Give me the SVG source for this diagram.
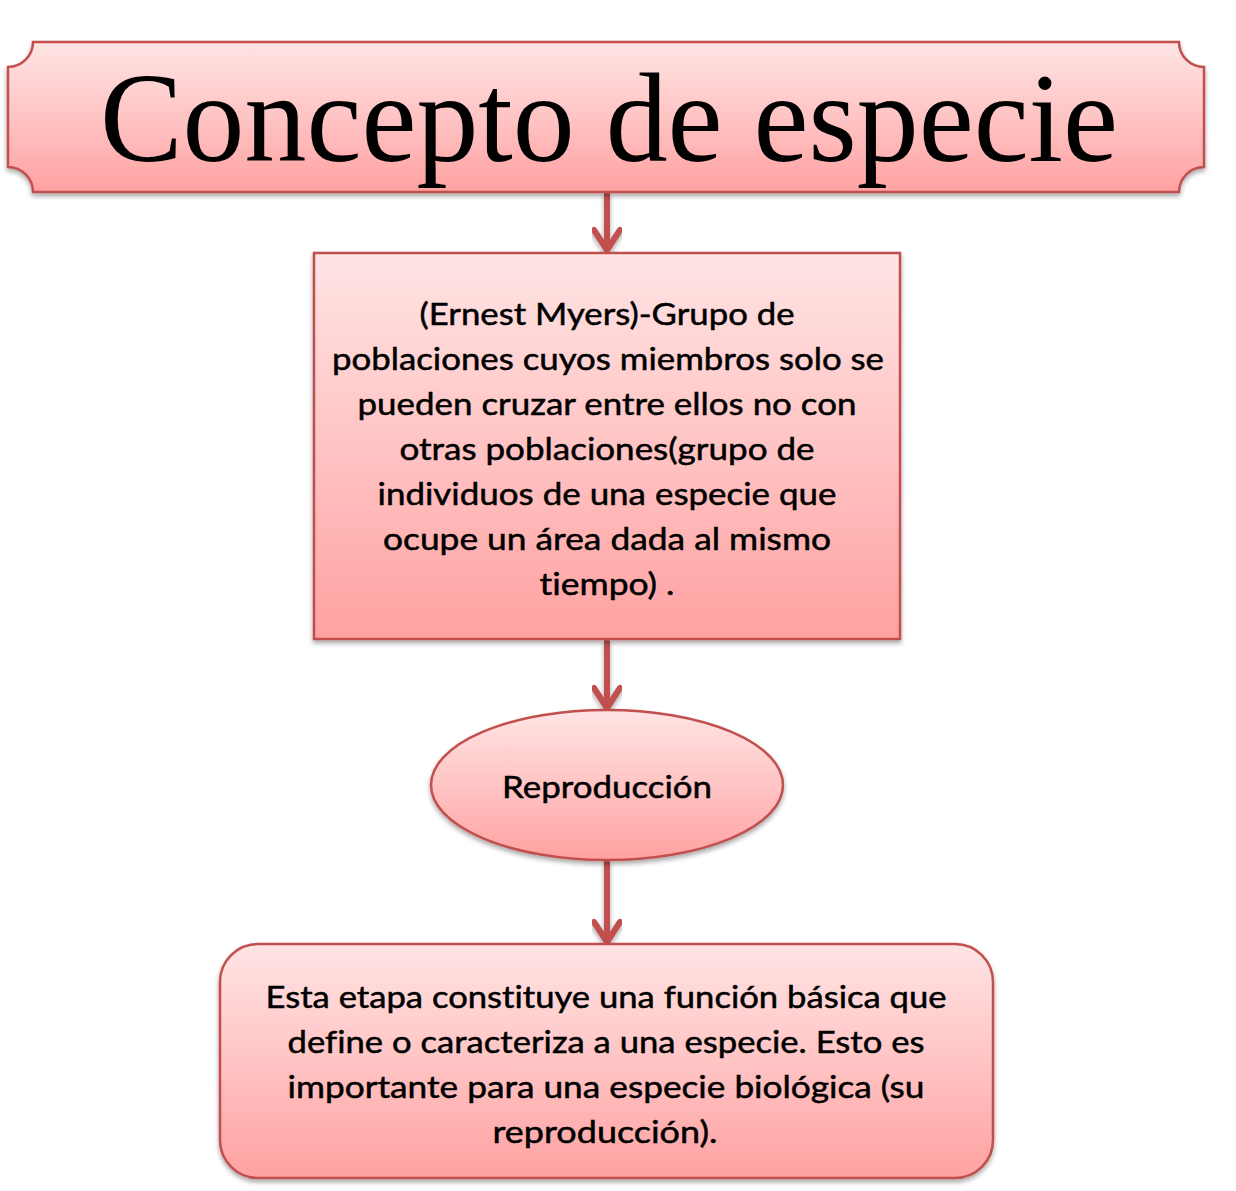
<svg xmlns="http://www.w3.org/2000/svg" width="1236" height="1191" viewBox="0 0 1236 1191">
<defs>
<linearGradient id="g" x1="0" y1="0" x2="0" y2="1">
<stop offset="0" stop-color="#FFE4E4"/>
<stop offset="0.5" stop-color="#FFC4C4"/>
<stop offset="1" stop-color="#FFA1A1"/>
</linearGradient>
<filter id="sh" x="-5%" y="-5%" width="110%" height="115%">
<feGaussianBlur in="SourceAlpha" stdDeviation="2.5"/>
<feOffset dx="0" dy="3" result="b"/>
<feComponentTransfer><feFuncA type="linear" slope="0.35"/></feComponentTransfer>
<feMerge><feMergeNode/><feMergeNode in="SourceGraphic"/></feMerge>
</filter>
</defs>
<style>
.shape{fill:url(#g);stroke:#C0504D;stroke-width:2.5;filter:url(#sh)}
.t{font-family:Lato,"Liberation Sans",sans-serif;font-size:31px;fill:#000;stroke:#000;stroke-width:0.5;text-anchor:middle;font-variant-ligatures:none;font-feature-settings:"liga" 0,"clig" 0,"dlig" 0}
.title{font-family:"Liberation Serif","DejaVu Serif",serif;font-size:127px;fill:#000}
.conn{fill:none;stroke:#C0504D;stroke-width:6;stroke-linecap:round;stroke-linejoin:round;filter:url(#sh)}
</style>
<rect width="1236" height="1191" fill="#fff"/>
<g id="connectors">
<path class="conn" d="M607,194 V250 M594,230 L607,250 L620,230"/>
<path class="conn" d="M607,642 V708 M594,688 L607,708 L620,688"/>
<path class="conn" d="M607,862 V942 M594,922 L607,942 L620,922"/>
</g>
<g id="title">
<path class="shape" d="M33,42 H1179 A25,25 0 0 0 1204,67 V167 A25,25 0 0 0 1179,192 H33 A25,25 0 0 0 8,167 V67 A25,25 0 0 0 33,42 Z"/>
<text class="title" x="100" y="161" textLength="1018" lengthAdjust="spacingAndGlyphs">Concepto de especie</text>
</g>
<g id="definicion">
<rect class="shape" x="314" y="253" width="586" height="386"/>
<text class="t" x="607" y="325" textLength="375" lengthAdjust="spacingAndGlyphs">(Ernest Myers)-Grupo de</text>
<text class="t" x="608" y="370" textLength="552" lengthAdjust="spacingAndGlyphs">poblaciones cuyos miembros solo se</text>
<text class="t" x="607" y="415" textLength="499" lengthAdjust="spacingAndGlyphs">pueden cruzar entre ellos no con</text>
<text class="t" x="607" y="460" textLength="415" lengthAdjust="spacingAndGlyphs">otras poblaciones(grupo de</text>
<text class="t" x="607" y="505" textLength="459" lengthAdjust="spacingAndGlyphs">individuos de una especie que</text>
<text class="t" x="607" y="550" textLength="448" lengthAdjust="spacingAndGlyphs">ocupe un área dada al mismo</text>
<text class="t" x="607" y="595" textLength="135" lengthAdjust="spacingAndGlyphs">tiempo) .</text>
</g>
<g id="reproduccion">
<ellipse class="shape" cx="607" cy="785" rx="176" ry="75"/>
<text class="t" x="607" y="798" textLength="210" lengthAdjust="spacingAndGlyphs">Reproducción</text>
</g>
<g id="explicacion">
<rect class="shape" x="220" y="944" width="773" height="234" rx="38" ry="38"/>
<text class="t" x="606" y="1008" textLength="681" lengthAdjust="spacingAndGlyphs">Esta etapa constituye una función básica que</text>
<text class="t" x="606" y="1053" textLength="637" lengthAdjust="spacingAndGlyphs">define o caracteriza a una especie. Esto es</text>
<text class="t" x="606" y="1098" textLength="637" lengthAdjust="spacingAndGlyphs">importante para una especie biológica (su</text>
<text class="t" x="605" y="1143" textLength="225" lengthAdjust="spacingAndGlyphs">reproducción).</text>
</g>
</svg>
